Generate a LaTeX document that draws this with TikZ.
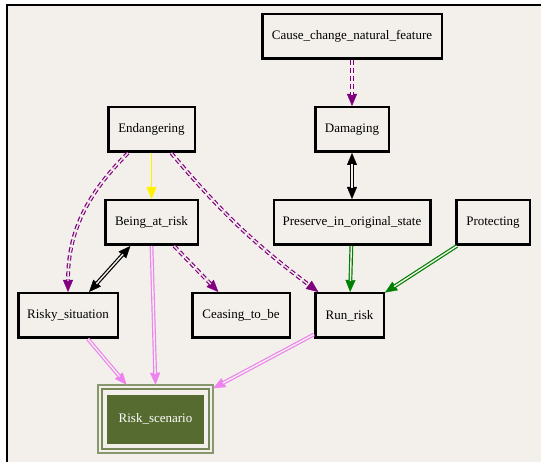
\documentclass[tikz,border=0pt]{standalone}
\usepackage{fontspec}
\setmainfont{Liberation Serif}
\usetikzlibrary{arrows.meta}
\definecolor{bgc}{HTML}{F3F0EB}
\definecolor{gvpurple}{HTML}{800080}
\definecolor{gvviolet}{HTML}{EE82EE}
\definecolor{gvgreen}{HTML}{008000}
\definecolor{gvolive}{HTML}{556B2F}
\begin{document}
\begin{tikzpicture}[x=1pt,y=-1pt,
  box/.style={draw=black, line width=2.5pt, fill=bgc, minimum height=44.5pt, inner sep=0pt, font=\fontsize{13}{15}\selectfont},
  outer/.style={line width=3.8pt},
  inner/.style={line width=1.4pt, draw=bgc},
  tip/.style={-{Triangle[length=12pt,width=10pt,line width=0.4pt]}},
  twotip/.style={{Triangle[length=12pt,width=10pt,line width=0.4pt]}-{Triangle[length=12pt,width=10pt,line width=0.4pt]}},
  dsh/.style={dash pattern=on 5pt off 3pt}
  ]
\useasboundingbox (0,0) rectangle (541,462);
\fill[white] (0,0) rectangle (541,462);
\fill[bgc] (7,5) rectangle (541,462);
\draw[line width=1.5pt] (7,462) -- (7,5) -- (541,5);

\node[box, minimum width=179.5pt] (cause) at (352,36.5) {Cause\_change\_natural\_feature};
\node[box, minimum width=86.5pt] (end) at (151.5,129.5) {Endangering};
\node[box, minimum width=73.5pt] (dam) at (352,129.5) {Damaging};
\node[box, minimum width=92.5pt] (bar) at (151.5,222.5) {Being\_at\_risk};
\node[box, minimum width=156.5pt] (pres) at (352,222.5) {Preserve\_in\_original\_state};
\node[box, minimum width=73.5pt] (prot) at (493,222.5) {Protecting};
\node[box, minimum width=99.5pt] (rs) at (68,315.5) {Risky\_situation};
\node[box, minimum width=97.5pt] (ctb) at (241,315.5) {Ceasing\_to\_be};
\node[box, minimum width=68.5pt] (rr) at (349.5,315.5) {Run\_risk};

\draw[gvolive!70, line width=1.2pt] (98,385) rectangle (213,453);
\draw[gvolive!80, line width=1.2pt] (102,389) rectangle (209,449);
\node[draw=gvolive, fill=gvolive, line width=1pt, minimum width=96pt, minimum height=48pt, inner sep=0pt,
  text=white, font=\fontsize{13}{15}\selectfont] (rsc) at (155.5,419) {Risk\_scenario};
\path (155.5,419) node[minimum width=115pt, minimum height=68pt, inner sep=0pt] (rscout) {};

% Cause -> Damaging
\draw[outer, gvpurple, dsh, tip] (cause) -- (dam);
\draw[inner, dsh, shorten >=11pt] (cause) -- (dam);
% Damaging <-> Preserve
\draw[outer, black, twotip] (dam) -- (pres);
\draw[inner, shorten >=11pt, shorten <=11pt] (dam) -- (pres);
% Endangering -> Being_at_risk
\draw[yellow, line width=1.5pt, tip] (end) -- (bar);
% Endangering -> Risky_situation
\draw[outer, gvpurple, dsh, tip] (end) to[out=-135, in=90] (rs);
\draw[inner, dsh, shorten >=11pt] (end) to[out=-135, in=90] (rs);
% Endangering -> Run_risk
\draw[outer, gvpurple, dsh, tip] (end) to[out=-50, in=143] (rr);
\draw[inner, dsh, shorten >=11pt] (end) to[out=-50, in=143] (rr);
% Being_at_risk <-> Risky_situation
\draw[outer, black, twotip] (bar) -- (rs);
\draw[inner, shorten >=11pt, shorten <=11pt] (bar) -- (rs);
% Being_at_risk -> Ceasing_to_be
\draw[outer, gvpurple, dsh, tip] (bar) -- (ctb);
\draw[inner, dsh, shorten >=11pt] (bar) -- (ctb);
% Being_at_risk -> Risk_scenario
\draw[outer, gvviolet, tip] (bar.south) -- (rscout.north);
\draw[inner, shorten >=11pt] (bar.south) -- (rscout.north);
% Preserve -> Run_risk
\draw[outer, gvgreen, tip] (pres) -- (rr);
\draw[inner, shorten >=11pt] (pres) -- (rr);
% Protecting -> Run_risk
\draw[outer, gvgreen, tip] (prot) -- (rr);
\draw[inner, shorten >=11pt] (prot) -- (rr);
% Risky_situation -> Risk_scenario
\draw[outer, gvviolet, tip] (rs) -- (rscout);
\draw[inner, shorten >=11pt] (rs) -- (rscout);
% Run_risk -> Risk_scenario
\draw[outer, gvviolet, tip] (rr) -- (rscout);
\draw[inner, shorten >=11pt] (rr) -- (rscout);
\end{tikzpicture}
\end{document}
